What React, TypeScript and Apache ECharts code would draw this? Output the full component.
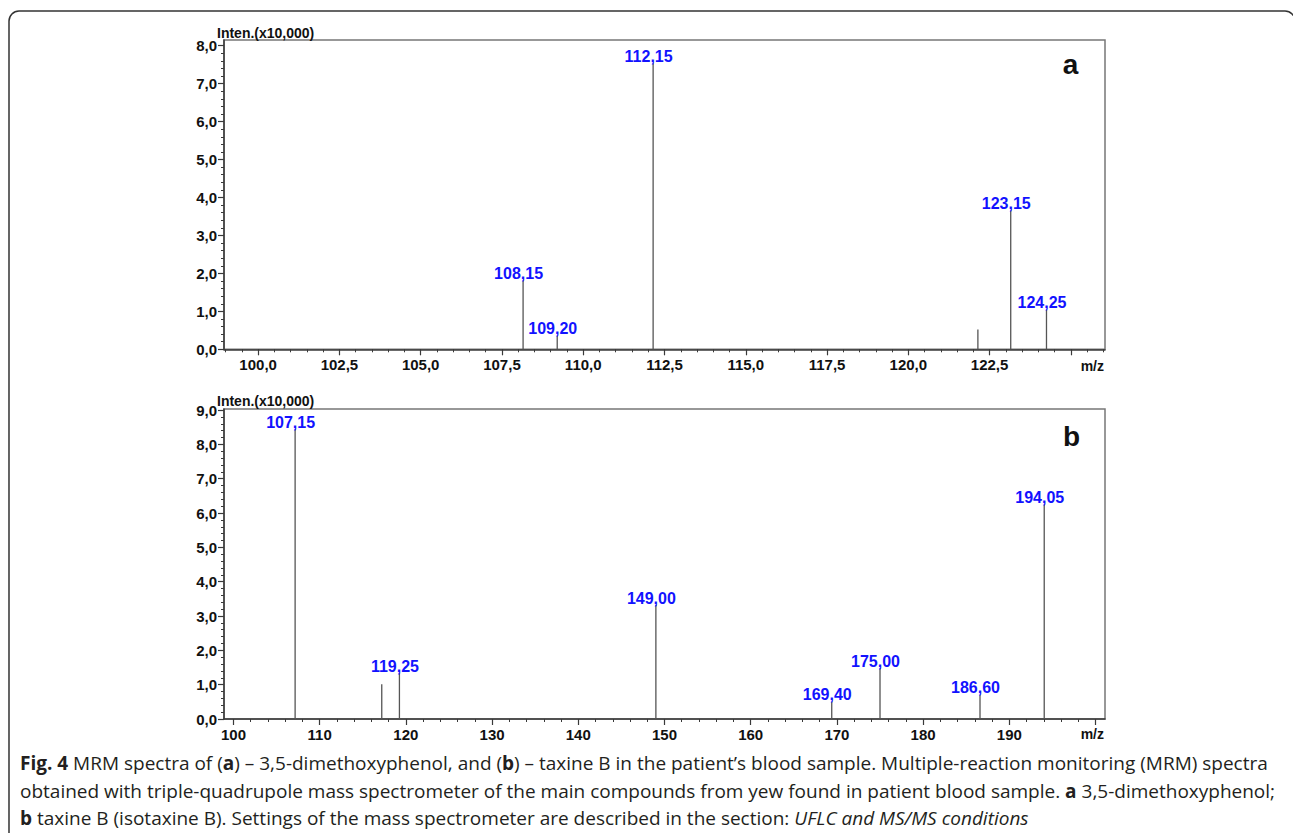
import React, { useEffect, useRef } from 'react';
import * as echarts from 'echarts';

// ---- Panel a: 3,5-dimethoxyphenol ----
const mzA = [108.15, 109.2, 112.15, 122.14, 123.15, 124.25];
const intA = [1.81, 0.36, 7.53, 0.52, 3.66, 1.04];
const labelsA = ['108,15', '109,20', '112,15', '', '123,15', '124,25'];
const xMajorA = [100, 102.5, 105, 107.5, 110, 112.5, 115, 117.5, 120, 122.5, 125];
const xLabelA = [100, 102.5, 105, 107.5, 110, 112.5, 115, 117.5, 120, 122.5];
const yMajorA = [0, 1, 2, 3, 4, 5, 6, 7, 8];

// ---- Panel b: taxine B ----
const mzB = [107.15, 117.2, 119.25, 149.0, 169.4, 175.0, 186.6, 194.05];
const intB = [8.44, 1.01, 1.33, 3.32, 0.5, 1.48, 0.7, 6.25];
const labelsB = ['107,15', '', '119,25', '149,00', '169,40', '175,00', '186,60', '194,05'];
const xMajorB = [100, 110, 120, 130, 140, 150, 160, 170, 180, 190, 200];
const xLabelB = [100, 110, 120, 130, 140, 150, 160, 170, 180, 190];
const yMajorB = [0, 1, 2, 3, 4, 5, 6, 7, 8, 9];

function steps(start: number, end: number, step: number): number[] {
  const out: number[] = [];
  const n = Math.round((end - start) / step);
  for (let i = 0; i <= n; i++) out.push(Math.round((start + i * step) * 1000) / 1000);
  return out;
}

const AXIS_FONT = '"Liberation Sans", Arial, sans-serif';
const axisColor = '#3a3a3a';

function makeX(gridIndex: number, min: number, max: number, major: number[], labels: number[], minor: number[], fmt: (v: number) => string) {
  return [
    {
      type: 'value', gridIndex, min, max, position: 'bottom',
      axisLine: { show: true, onZero: false, lineStyle: { color: axisColor, width: 1.5 } },
      axisTick: { show: true, customValues: major, length: 6, lineStyle: { color: axisColor, width: 1.2 } },
      axisLabel: { show: true, customValues: labels, formatter: fmt, margin: 8, fontSize: 15, fontWeight: 'bold', color: '#111', fontFamily: AXIS_FONT },
      splitLine: { show: false },
    },
    {
      type: 'value', gridIndex, min, max, position: 'bottom',
      axisLine: { show: false },
      axisTick: { show: true, customValues: minor, length: 3, lineStyle: { color: axisColor, width: 1 } },
      axisLabel: { show: false },
      splitLine: { show: false },
    },
  ];
}

function makeY(gridIndex: number, min: number, max: number, major: number[], minor: number[]) {
  return [
    {
      type: 'value', gridIndex, min, max, position: 'left',
      axisLine: { show: true, onZero: false, lineStyle: { color: axisColor, width: 1.5 } },
      axisTick: { show: true, customValues: major, length: 6, lineStyle: { color: axisColor, width: 1.2 } },
      axisLabel: { show: true, customValues: major, formatter: (v: number) => v.toFixed(1).replace('.', ','), margin: 7, fontSize: 15, fontWeight: 'bold', color: '#111', fontFamily: AXIS_FONT },
      splitLine: { show: false },
    },
    {
      type: 'value', gridIndex, min, max, position: 'left',
      axisLine: { show: false },
      axisTick: { show: true, customValues: minor, length: 3, lineStyle: { color: axisColor, width: 1 } },
      axisLabel: { show: false },
      splitLine: { show: false },
    },
  ];
}

function peakSeries(xIdx: number, yIdx: number, mz: number[], inten: number[], labels: string[]) {
  return {
    type: 'custom',
    xAxisIndex: xIdx,
    yAxisIndex: yIdx,
    clip: false,
    data: mz.map((m, i) => [m, inten[i]]),
    renderItem: (params: any, api: any) => {
      const x = api.value(0);
      const y = api.value(1);
      const base = api.coord([x, 0]);
      const top = api.coord([x, y]);
      const lab = labels[params.dataIndex];
      const children: any[] = [
        { type: 'line', shape: { x1: base[0], y1: base[1], x2: top[0], y2: top[1] }, style: { stroke: '#555', lineWidth: 1.3 } },
      ];
      if (lab) {
        children.push({
          type: 'text', x: top[0] - 4.5, y: top[1] + 1,
          style: { text: lab, fill: '#1212ff', fontSize: 16, fontWeight: 'bold', fontFamily: AXIS_FONT, align: 'center', verticalAlign: 'bottom' },
        });
      }
      return { type: 'group', children };
    },
  };
}

const CAP_FONT = '"Open Sans", "Noto Sans", sans-serif';
const CAP_SIZE = 19;
const capColor = '#231f20';
const capRich = {
  n: { fontFamily: CAP_FONT, fontSize: CAP_SIZE, fill: capColor, fontWeight: 'normal' },
  b: { fontFamily: CAP_FONT, fontSize: CAP_SIZE, fill: capColor, fontWeight: 'bold' },
  i: { fontFamily: CAP_FONT, fontSize: CAP_SIZE, fill: capColor, fontStyle: 'italic' },
};
const captionLines = [
  '{b|Fig. 4}{n| MRM spectra of (}{b|a}{n|) – 3,5-dimethoxyphenol, and (}{b|b}{n|) – taxine B in the patient’s blood sample. Multiple-reaction monitoring (MRM) spectra}',
  '{n|obtained with triple-quadrupole mass spectrometer of the main compounds from yew found in patient blood sample. }{b|a}{n| 3,5-dimethoxyphenol;}',
  '{b|b}{n| taxine B (isotaxine B). Settings of the mass spectrometer are described in the section: }{i|UFLC and MS/MS conditions}',
];

export default function App() {
  const ref = useRef<HTMLDivElement>(null);
  useEffect(() => {
    if (!ref.current) return;
    const chart = echarts.init(ref.current, null, { renderer: 'svg' });
    const titleStyle = { fill: '#111', fontSize: 14, fontWeight: 'bold', fontFamily: AXIS_FONT, verticalAlign: 'bottom' };
    const option: any = {
      animation: false,
      backgroundColor: '#fff',
      grid: [
        { left: 224, top: 40, width: 881, height: 309.3, show: true, borderColor: '#777', borderWidth: 1.5, containLabel: false },
        { left: 224, top: 409, width: 881, height: 310, show: true, borderColor: '#777', borderWidth: 1.5, containLabel: false },
      ],
      xAxis: [
        ...makeX(0, 98.95, 126.05, xMajorA, xLabelA, steps(99, 126, 0.5), (v: number) => v.toFixed(1).replace('.', ',')),
        ...makeX(1, 98.9, 201.1, xMajorB, xLabelB, steps(100, 200, 2), (v: number) => String(Math.round(v))),
      ],
      yAxis: [
        ...makeY(0, 0, 8.15, yMajorA, steps(0, 8, 0.2)),
        ...makeY(1, 0, 9.03, yMajorB, steps(0, 9, 0.2)),
      ],
      series: [
        peakSeries(0, 0, mzA, intA, labelsA),
        peakSeries(2, 2, mzB, intB, labelsB),
      ],
      graphic: [
        { type: 'rect', silent: true, z: -10, shape: { x: 9, y: 11, width: 1286, height: 900, r: 10 }, style: { fill: 'none', stroke: '#333', lineWidth: 1.5 } },
        { type: 'text', x: 217, y: 40, style: { ...titleStyle, text: 'Inten.(x10,000)', align: 'left' } },
        { type: 'text', x: 217, y: 408, style: { ...titleStyle, text: 'Inten.(x10,000)', align: 'left' } },
        { type: 'text', x: 1104, y: 373, style: { ...titleStyle, text: 'm/z', align: 'right' } },
        { type: 'text', x: 1104, y: 741, style: { ...titleStyle, text: 'm/z', align: 'right' } },
        { type: 'text', x: 1070.5, y: 78, style: { text: 'a', fill: '#111', fontSize: 28, fontWeight: 'bold', fontFamily: AXIS_FONT, align: 'center', verticalAlign: 'bottom' } },
        { type: 'text', x: 1071.5, y: 450, style: { text: 'b', fill: '#111', fontSize: 28, fontWeight: 'bold', fontFamily: AXIS_FONT, align: 'center', verticalAlign: 'bottom' } },
        ...captionLines.map((t, i) => ({
          type: 'text', x: 20, y: 763 + i * 27.5,
          style: { text: t, rich: capRich, fontFamily: CAP_FONT, fontSize: CAP_SIZE, fill: capColor, align: 'left', verticalAlign: 'middle' },
        })),
      ],
    };
    chart.setOption(option);
    return () => chart.dispose();
  }, []);
  return <div ref={ref} style={{ position: 'absolute', left: 0, top: 0, width: 1293, height: 833 }} />;
}
